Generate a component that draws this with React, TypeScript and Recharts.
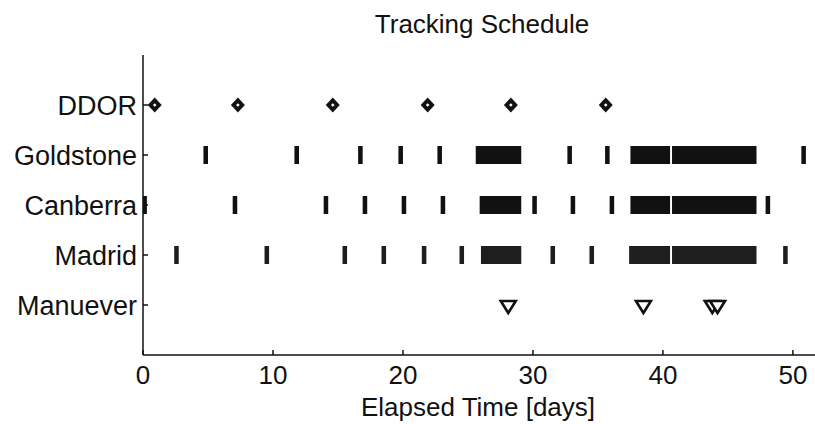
import {
  ScatterChart,
  Scatter,
  XAxis,
  YAxis,
  ReferenceArea,
} from "recharts";

const FONT = '"Liberation Sans", Arial, Helvetica, sans-serif';
const INK = "#111111";

// rows, bottom to top
const rowNames = ["", "Manuever", "Madrid", "Canberra", "Goldstone", "DDOR"];
const rowTicks = [1, 2, 3, 4, 5];
const dayTicks = [0, 10, 20, 30, 40, 50];

// DDOR sessions (days)
const ddorDays = [0.9, 7.3, 14.6, 21.9, 28.3, 35.6];

// maneuvers (days)
const maneuverDays = [28.1, 38.5, 43.8, 44.2];

// tracking passes per station: [start, end] in days
const goldstonePasses = [
  [4.65, 5.0], [11.65, 12.0], [16.55, 16.9], [19.65, 20.0], [22.65, 23.0],
  [25.6, 29.1], [32.65, 33.0], [35.55, 35.9], [37.5, 40.55], [40.7, 47.2],
  [50.65, 51.0],
];
const canberraPasses = [
  [0.0, 0.3], [6.9, 7.25], [13.9, 14.25], [16.9, 17.25], [19.9, 20.25],
  [22.9, 23.25], [25.9, 29.1], [29.95, 30.3], [32.9, 33.25], [35.9, 36.25],
  [37.5, 40.55], [40.7, 47.2], [47.9, 48.25],
];
const madridPasses = [
  [2.4, 2.75], [9.35, 9.7], [15.35, 15.7], [18.35, 18.7], [21.45, 21.8],
  [24.35, 24.7], [26.0, 29.1], [31.35, 31.7], [34.35, 34.7], [37.4, 40.55],
  [40.7, 47.2], [49.25, 49.6],
];

const stations = [
  { row: 4, passes: goldstonePasses, color: "#111111" },
  { row: 3, passes: canberraPasses, color: "#111111" },
  { row: 2, passes: madridPasses, color: "#1e1e1e" },
];

const ddorData = ddorDays.map((x) => ({ x, y: 5 }));
const maneuverData = maneuverDays.map((x) => ({ x, y: 1 }));

const Diamond = (props: any) => {
  const { cx, cy } = props;
  return (
    <g>
      <polygon
        points={`${cx},${cy - 7.5} ${cx + 7},${cy} ${cx},${cy + 7.5} ${cx - 7},${cy}`}
        fill={INK}
      />
      <polygon
        points={`${cx},${cy - 1.8} ${cx + 1.8},${cy} ${cx},${cy + 1.8} ${cx - 1.8},${cy}`}
        fill="#ffffff"
      />
    </g>
  );
};

const DownTriangle = (props: any) => {
  const { cx, cy } = props;
  return (
    <polygon
      points={`${cx - 7.5},${cy - 4} ${cx + 7.5},${cy - 4} ${cx},${cy + 8}`}
      fill="#ffffff"
      stroke={INK}
      strokeWidth={2.6}
      strokeLinejoin="miter"
    />
  );
};

export default function App() {
  const tickStyle = { fill: INK, fontSize: 26, fontFamily: FONT };
  return (
    <div style={{ position: "absolute", left: 0, top: 0, background: "#fff" }}>
      <ScatterChart
        width={815}
        height={424}
        margin={{ top: 55, right: 0, bottom: 0, left: 0 }}
      >
        <XAxis
          type="number"
          dataKey="x"
          domain={[0, 51.7]}
          ticks={dayTicks}
          allowDataOverflow
          height={69}
          tick={tickStyle}
          tickSize={-5}
          tickMargin={16}
          axisLine={{ stroke: INK, strokeWidth: 1.5 }}
          tickLine={{ stroke: INK, strokeWidth: 1.5 }}
        />
        <YAxis
          type="number"
          dataKey="y"
          domain={[0, 6]}
          ticks={rowTicks}
          width={143}
          tickFormatter={(v: number) => rowNames[v]}
          tick={{ ...tickStyle, fontSize: 27 }}
          tickSize={-5}
          tickMargin={11}
          axisLine={{ stroke: INK, strokeWidth: 1.5 }}
          tickLine={{ stroke: INK, strokeWidth: 1.5 }}
        />
        {stations.map((s) =>
          s.passes.map(([a, b], i) => (
            <ReferenceArea
              key={`${s.row}-${i}`}
              x1={a}
              x2={b}
              y1={s.row - 0.18}
              y2={s.row + 0.18}
              fill={s.color}
              fillOpacity={1}
              stroke="none"
            />
          ))
        )}
        <Scatter
          data={ddorData}
          shape={<Diamond />}
          isAnimationActive={false}
        />
        <Scatter
          data={maneuverData}
          shape={<DownTriangle />}
          isAnimationActive={false}
        />
        <text
          x={482}
          y={33}
          textAnchor="middle"
          fontSize={26}
          fontFamily={FONT}
          fill={INK}
        >
          Tracking Schedule
        </text>
        <text
          x={478}
          y={416}
          textAnchor="middle"
          fontSize={26}
          fontFamily={FONT}
          fill={INK}
        >
          Elapsed Time [days]
        </text>
      </ScatterChart>
    </div>
  );
}
